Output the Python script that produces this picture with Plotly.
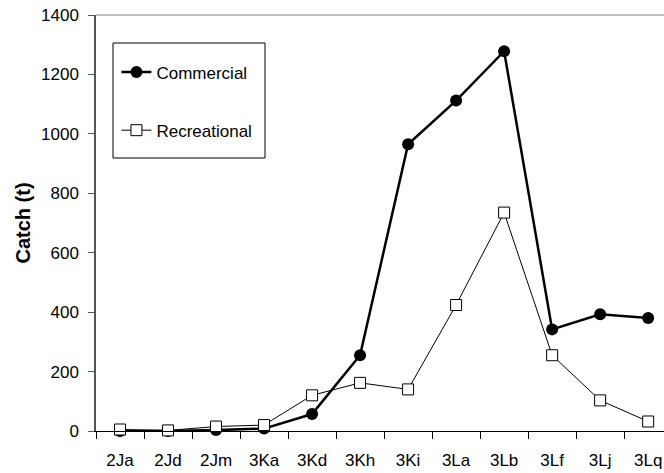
import plotly.graph_objects as go

areas = ["2Ja", "2Jd", "2Jm", "3Ka", "3Kd", "3Kh", "3Ki", "3La", "3Lb", "3Lf", "3Lj", "3Lq"]
commercial = [0, 0, 3, 8, 57, 255, 965, 1112, 1278, 342, 393, 380]
recreational = [5, 2, 15, 20, 120, 162, 140, 424, 735, 255, 103, 32]
y_ticks = [0, 200, 400, 600, 800, 1000, 1200, 1400]

FONT = "Liberation Sans, Arial, sans-serif"

fig = go.Figure()
fig.add_trace(go.Scatter(
    x=areas, y=commercial, name="Commercial", mode="lines+markers",
    line=dict(color="black", width=2.5),
    marker=dict(symbol="circle", size=12, color="black"),
    legendgroup="a", cliponaxis=False,
))
fig.add_trace(go.Scatter(
    x=areas, y=recreational, name="Recreational", mode="lines+markers",
    line=dict(color="black", width=1),
    marker=dict(symbol="square", size=11, color="white", line=dict(color="black", width=1)),
    legendgroup="b", cliponaxis=False,
))

fig.update_layout(
    width=664, height=473,
    margin=dict(l=96, r=0, t=15, b=42),
    paper_bgcolor="white", plot_bgcolor="white",
    font=dict(family=FONT, size=17, color="black"),
    showlegend=True,
    legend=dict(
        x=0.036, y=0.905, xanchor="left", yanchor="top",
        bgcolor="rgba(0,0,0,0)", borderwidth=0,
        font=dict(size=17), tracegroupgap=33, traceorder="grouped",
    ),
    xaxis=dict(
        type="category", categoryorder="array", categoryarray=areas,
        range=[-0.5, 11.33], tickson="boundaries", ticks="outside", ticklen=7,
        tickcolor="black", showline=True, linecolor="black", linewidth=1,
        showgrid=False, zeroline=False, ticklabelstandoff=14,
    ),
    yaxis=dict(
        range=[0, 1400], tickvals=y_ticks, ticks="outside", ticklen=6,
        tickcolor="#555", showline=True, linecolor="#555", linewidth=1.5,
        showgrid=False, zeroline=False, ticklabelstandoff=6,
        title=dict(text="<b>Catch (t)</b>", font=dict(size=20), standoff=5),
    ),
    shapes=[
        dict(type="line", xref="paper", yref="paper", x0=0, x1=1, y0=1, y1=1,
             line=dict(color="#aaaaaa", width=1.5)),
        dict(type="rect", xref="paper", yref="paper",
             x0=(113 - 96) / 568, x1=(265 - 96) / 568,
             y0=(431 - 158) / 416, y1=(431 - 43) / 416,
             line=dict(color="black", width=1), fillcolor="rgba(0,0,0,0)"),
    ],
)

fig.write_html("out.html", config={"displayModeBar": False},
               post_script="document.body.style.margin='0';")
